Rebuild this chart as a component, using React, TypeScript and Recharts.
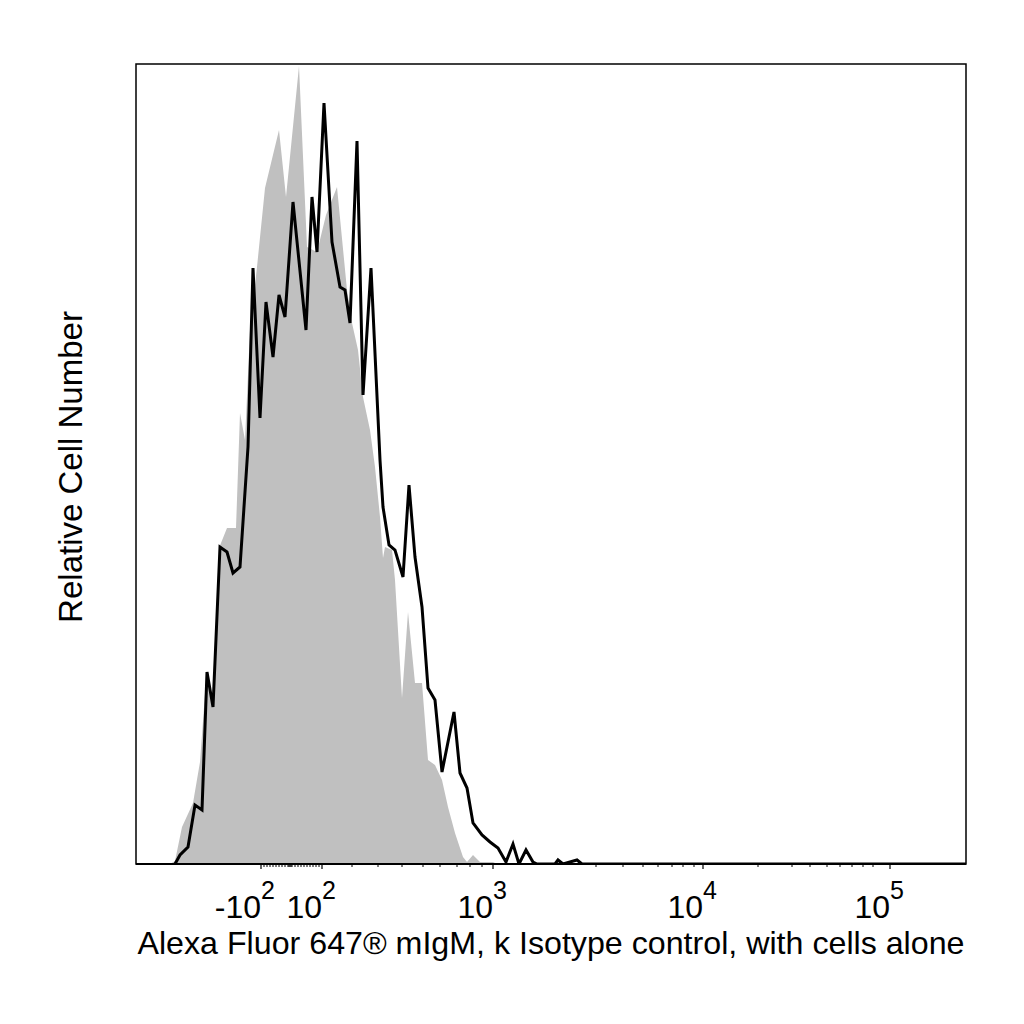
import React from "react";
import {
  ComposedChart,
  Area,
  Line,
  XAxis,
  YAxis,
  ReferenceArea,
  Label,
} from "recharts";

// Display channel (biexponential scale position) and relative cell counts
const isotypeChannel = [
  170, 175, 182, 193, 200, 206, 213, 219, 227, 236, 240, 245, 250, 257, 265, 279,
  286, 299, 307, 317, 326, 337, 347, 352, 358, 363, 370, 375, 380, 383, 385, 392,
  395, 402, 408, 415, 422, 428, 435, 442, 448, 455, 463, 467, 473, 480, 493, 497, 966,
];
const isotypeCount = [
  0, 3, 37, 61, 102, 184, 169, 316, 336, 336, 451, 424, 534, 597, 676, 734,
  667, 798, 617, 612, 649, 677, 574, 541, 514, 467, 434, 397, 347, 306, 317, 314,
  284, 166, 252, 181, 181, 104, 99, 84, 57, 31, 7, 2, 9, 2, 2, 0, 0,
];

const cellsChannel = [
  175, 180, 188, 195, 202, 207, 213, 220, 227, 233, 240, 248, 253, 260, 266, 273,
  279, 285, 293, 306, 312, 317, 324, 332, 340, 345, 350, 357, 363, 371, 380, 383,
  389, 395, 403, 409, 415, 422, 428, 435, 442, 454, 460, 467, 473, 482, 490, 498,
  506, 513, 519, 526, 533, 537, 555, 558, 563, 577, 582, 966,
];
const cellsCount = [
  0, 9, 17, 59, 54, 192, 157, 317, 312, 291, 297, 417, 596, 446, 562, 507,
  569, 547, 662, 534, 667, 612, 761, 622, 577, 574, 541, 723, 469, 596, 404, 357,
  319, 314, 287, 379, 307, 257, 176, 164, 92, 152, 91, 76, 41, 29, 22, 16,
  2, 20, 0, 14, 2, 0, 0, 4, 0, 4, 0, 0,
];

// Axis ticks (positions on display scale)
const majorTickPos = [261, 322, 493, 703, 890];
const majorTickBase = ["-10", "10", "10", "10", "10"];
const majorTickExp = ["2", "2", "3", "4", "5"];
const minorTickPos = [
  264, 267, 270, 273, 276, 279, 282, 285, 288, 289, 290, 291, 292, 295, 298, 301,
  304, 307, 310, 313, 316, 319, 352, 378, 402, 423, 440, 457, 470, 482, 596, 623,
  643, 658, 672, 683, 694, 758, 792, 810, 827, 840, 852, 863, 873,
];

const xTitle = "Alexa Fluor 647® mIgM, k Isotype control, with cells alone";
const yTitle = "Relative Cell Number";

const isotypeData = isotypeChannel.map((x, i) => ({ x, v: isotypeCount[i] }));
const cellsData = cellsChannel.map((x, i) => ({ x, v: cellsCount[i] }));
const allTicks = [...minorTickPos, ...majorTickPos].sort((a, b) => a - b);

const FONT = "'Liberation Sans', Arial, sans-serif";

const Tick = (props: any) => {
  const { x, y, payload } = props;
  const idx = majorTickPos.indexOf(payload.value);
  if (idx < 0) {
    return <line x1={x} x2={x} y1={y} y2={y + 3} stroke="#000" strokeWidth={1} />;
  }
  return (
    <g>
      <line x1={x} x2={x} y1={y} y2={y + 5} stroke="#000" strokeWidth={1.2} />
      <text
        x={x + 14}
        y={y + 54}
        textAnchor="end"
        fontFamily={FONT}
        fontSize={32}
        fill="#000"
      >
        <tspan>{majorTickBase[idx]}</tspan>
        <tspan dy={-19} fontSize={25}>
          {majorTickExp[idx]}
        </tspan>
      </text>
    </g>
  );
};

export default function App() {
  return (
    <div style={{ width: 1016, height: 1000, background: "#fff" }}>
      <ComposedChart
        width={1016}
        height={1000}
        margin={{ top: 56, right: 58, left: 0, bottom: 44 }}
      >
        <XAxis
          dataKey="x"
          type="number"
          domain={[136, 966]}
          ticks={allTicks}
          interval={0}
          tick={<Tick />}
          tickLine={false}
          tickSize={0}
          tickMargin={0}
          height={100}
          axisLine={{ stroke: "#000", strokeWidth: 2 }}
          allowDataOverflow
        >
          <Label
            value={xTitle}
            position="insideBottom"
            offset={10}
            fontSize={32.2}
            fontFamily={FONT}
            fill="#000"
          />
        </XAxis>
        <YAxis
          type="number"
          domain={[0, 800]}
          width={128}
          tick={false}
          tickLine={false}
          axisLine={false}
          allowDataOverflow
        >
          <Label
            value={yTitle}
            position="center"
            angle={-90}
            dx={-2}
            dy={3}
            fontSize={33}
            fontFamily={FONT}
            fill="#000"
          />
        </YAxis>
        <Area
          data={isotypeData}
          dataKey="v"
          type="linear"
          fill="#c0c0c0"
          fillOpacity={1}
          stroke="none"
          isAnimationActive={false}
          dot={false}
          activeDot={false}
        />
        <Line
          data={cellsData}
          dataKey="v"
          type="linear"
          stroke="#000"
          strokeWidth={3}
          strokeLinejoin="miter"
          dot={false}
          activeDot={false}
          isAnimationActive={false}
        />
        <ReferenceArea
          x1={136}
          x2={966}
          y1={0}
          y2={800}
          fill="none"
          stroke="#000"
          strokeWidth={1.5}
          ifOverflow="visible"
        />
      </ComposedChart>
    </div>
  );
}
